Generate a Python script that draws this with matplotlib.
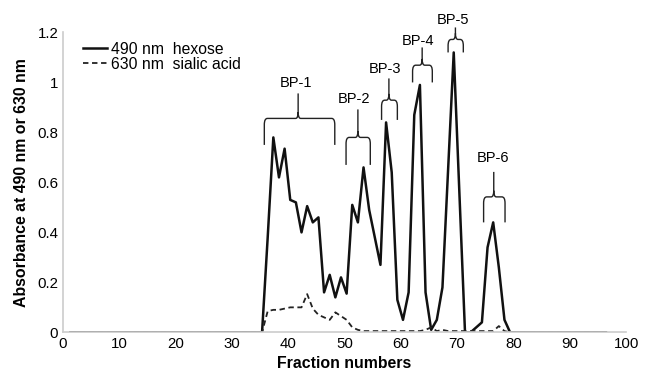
import numpy as np
import matplotlib
matplotlib.use('Agg')
import matplotlib.pyplot as plt
from matplotlib.path import Path
from matplotlib.patches import PathPatch

plt.rcParams['font.family'] = ['Liberation Sans', 'DejaVu Sans']

# ── Data ───────────────────────────────────────────────────────────────────
# x positions (points sit ~0.4 right of the integers)
fractions = [f + 0.4 for f in range(1, 97)]

# 490 nm (hexose), non-zero part from fraction 35 to 79
hexose_peak = [0.0, 0.38, 0.78, 0.62, 0.735, 0.53, 0.52, 0.40, 0.505, 0.44,
               0.46, 0.16, 0.23, 0.14, 0.22, 0.155, 0.51, 0.44, 0.66, 0.49,
               0.38, 0.27, 0.84, 0.64, 0.13, 0.05, 0.16, 0.87, 0.99, 0.16,
               0.01, 0.05, 0.18, 0.65, 1.12, 0.56, 0.0, 0.0, 0.02, 0.04,
               0.34, 0.44, 0.26, 0.05, 0.0]
# 630 nm (sialic acid), same range
sialic_peak = [0.0, 0.085, 0.09, 0.09, 0.095, 0.10, 0.10, 0.10, 0.153, 0.095,
               0.07, 0.06, 0.05, 0.08, 0.065, 0.05, 0.02, 0.01, 0.005, 0.005,
               0.005, 0.005, 0.005, 0.005, 0.005, 0.005, 0.005, 0.005, 0.005, 0.01,
               0.02, 0.005, 0.01, 0.005, 0.005, 0.005, 0.005, 0.005, 0.005, 0.005,
               0.005, 0.005, 0.025, 0.005, 0.0]
peak_start = 35

hexose = [0.0] * len(fractions)
sialic = [0.0] * len(fractions)
for i, (h, s) in enumerate(zip(hexose_peak, sialic_peak)):
    hexose[peak_start - 1 + i] = h
    sialic[peak_start - 1 + i] = s

# bracket annotations (pooled fractions)
pool_labels = ['BP-1', 'BP-2', 'BP-3', 'BP-4', 'BP-5', 'BP-6']
pool_left = [35.8, 50.3, 56.6, 62.1, 68.4, 74.7]
pool_right = [48.3, 54.6, 59.4, 65.6, 71.1, 78.5]
pool_center = [41.8, 52.4, 57.9, 63.8, 69.7, 76.5]
pool_bottom = [0.75, 0.67, 0.85, 1.00, 1.12, 0.44]
pool_horiz = [0.856, 0.78, 0.929, 1.069, 1.172, 0.542]
pool_top = [0.956, 0.892, 1.016, 1.14, 1.22, 0.642]
pool_text_x = [41.5, 51.7, 57.2, 63.1, 69.3, 76.3]
pool_text_y = [0.996, 0.933, 1.053, 1.165, 1.249, 0.696]


def draw_brace(ax, left, right, center, bottom, horiz, top):
    rx, ry = 0.55, 0.025
    cx, cy = 0.45, 0.025
    verts = [(left, bottom), (left, horiz - ry), (left, horiz), (left + rx, horiz),
             (center - cx, horiz), (center, horiz), (center, horiz + cy),
             (center, top),
             (center, horiz + cy), (center, horiz), (center + cx, horiz),
             (right - rx, horiz), (right, horiz), (right, horiz - ry),
             (right, bottom)]
    codes = [Path.MOVETO, Path.LINETO, Path.CURVE3, Path.CURVE3,
             Path.LINETO, Path.CURVE3, Path.CURVE3,
             Path.LINETO,
             Path.MOVETO, Path.CURVE3, Path.CURVE3,
             Path.LINETO, Path.CURVE3, Path.CURVE3,
             Path.LINETO]
    ax.add_patch(PathPatch(Path(verts, codes), fill=False, lw=1.0,
                           edgecolor='#222222', clip_on=False))


fig = plt.figure(figsize=(6.45, 3.73), dpi=100)
ax = fig.add_axes([0.0969, 0.109, 0.874, 0.804])

ax.plot(fractions, hexose, color='#111111', lw=1.8, label='490 nm  hexose')
ax.plot(fractions, sialic, color='#222222', lw=1.3, ls=(0, (3, 2)),
        label='630 nm  sialic acid')

for lab, l, r, c, b, h, t, tx, ty in zip(pool_labels, pool_left, pool_right,
                                         pool_center, pool_bottom, pool_horiz,
                                         pool_top, pool_text_x, pool_text_y):
    draw_brace(ax, l, r, c, b, h, t)
    ax.text(tx, ty, lab, ha='center', va='center', fontsize=10.5)

ax.set_xlim(0, 100)
ax.set_ylim(0, 1.2)
ax.set_xticks(range(0, 101, 10))
ax.set_yticks([0, 0.2, 0.4, 0.6, 0.8, 1.0, 1.2])
ax.set_yticklabels(['0', '0.2', '0.4', '0.6', '0.8', '1', '1.2'])
ax.tick_params(length=0, labelsize=10.8, pad=3)
for side in ['top', 'right']:
    ax.spines[side].set_visible(False)
for side in ['left', 'bottom']:
    ax.spines[side].set_color('#cccccc')
    ax.spines[side].set_linewidth(1.2)

ax.set_xlabel('Fraction numbers', fontsize=11.4, fontweight='bold', labelpad=4)
ax.set_ylabel('Absorbance at 490 nm or 630 nm', fontsize=11.4, fontweight='bold',
              labelpad=6)

leg = ax.legend(loc='upper left', bbox_to_anchor=(0.02, 1.0), frameon=False,
                fontsize=11.3, handlelength=1.5, handletextpad=0.3,
                labelspacing=0.0, borderaxespad=0.2)

fig.savefig('out.png', dpi=100)
